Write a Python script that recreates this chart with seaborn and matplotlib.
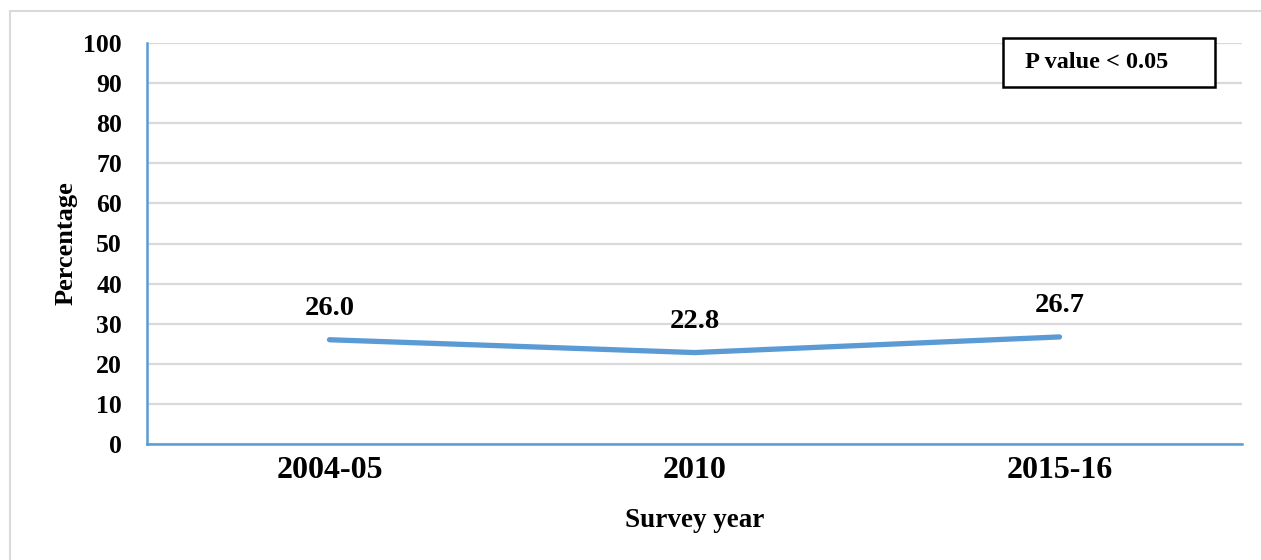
import matplotlib
matplotlib.use("Agg")
import matplotlib.pyplot as plt
import seaborn as sns
import pandas as pd
from matplotlib.lines import Line2D
from matplotlib.patches import Rectangle

survey_years = ["2004-05", "2010", "2015-16"]
percentages = [26.0, 22.8, 26.7]
y_ticks = [0, 10, 20, 30, 40, 50, 60, 70, 80, 90, 100]
annotation_text = "P value < 0.05"

sns.set_theme(style="white")
plt.rcParams["font.family"] = ["Liberation Serif", "DejaVu Serif"]
plt.rcParams["font.weight"] = "bold"
plt.rcParams["text.color"] = "black"
plt.rcParams["axes.labelcolor"] = "black"
plt.rcParams["xtick.color"] = "black"
plt.rcParams["ytick.color"] = "black"

df = pd.DataFrame({"year": survey_years, "pct": percentages})
blue = "#5B9BD5"

fig = plt.figure(figsize=(12.61, 5.6), dpi=100)
ax = fig.add_axes([147/1261, 1-444/560, (1242-147)/1261, (444-43)/560])

sns.lineplot(data=df, x="year", y="pct", ax=ax, color=blue, linewidth=3.8,
             sort=False, solid_capstyle="round")

ax.set_xlim(-0.5, 2.5)
ax.set_ylim(0, 100)
ax.set_yticks(y_ticks)
ax.set_yticklabels([str(t) for t in y_ticks], fontsize=18.5, fontweight="bold")
ax.set_xticks(range(len(survey_years)))
ax.set_xticklabels(survey_years, fontsize=23, fontweight="bold")
ax.tick_params(axis="y", length=0, pad=18)
ax.tick_params(axis="x", length=0, pad=9)
ax.yaxis.grid(True, color="#D9D9D9", linewidth=1.6)
ax.xaxis.grid(False)
ax.set_axisbelow(True)

for side in ["top", "right"]:
    ax.spines[side].set_visible(False)
for side in ["left", "bottom"]:
    ax.spines[side].set_color(blue)
    ax.spines[side].set_linewidth(1.8)

ax.set_ylabel("Percentage", fontsize=19, fontweight="bold", labelpad=4)
ax.set_xlabel("Survey year", fontsize=19.5, fontweight="bold", labelpad=16)

for i, v in enumerate(percentages):
    ax.annotate(f"{v:.1f}", xy=(i, v), xytext=(0, 18), textcoords="offset points",
                ha="center", va="baseline", fontsize=20.5, fontweight="bold",
                color="black")

# p-value box
fig.add_artist(Rectangle((1003/1261, 1-87/560), (1215-1003)/1261, (87-38)/560,
                         transform=fig.transFigure, facecolor="white",
                         edgecolor="black", linewidth=1.8, zorder=5))
fig.text(1025/1261, 1-62.5/560, annotation_text, ha="left", va="center",
         fontsize=17.5, fontweight="bold", color="black", zorder=6)

# outer light border (left and top)
fig.add_artist(Line2D([10/1261, 10/1261], [0, 1-11/560], transform=fig.transFigure,
                      color="#D9D9D9", linewidth=1.5))
fig.add_artist(Line2D([10/1261, 1], [1-11/560, 1-11/560], transform=fig.transFigure,
                      color="#D9D9D9", linewidth=1.5))

fig.savefig("out.png", dpi=100)
